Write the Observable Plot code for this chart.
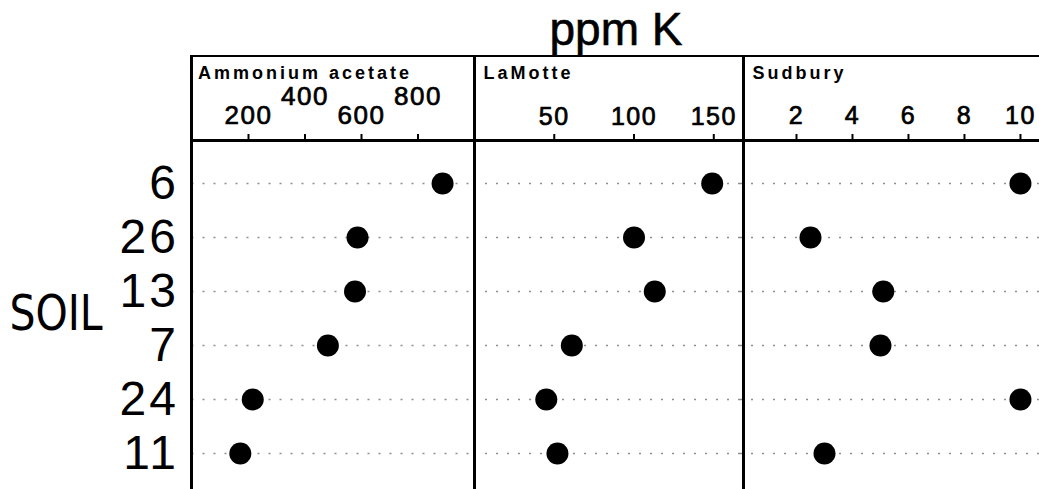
<!DOCTYPE html>
<html>
<head>
<meta charset="utf-8">
<script src="https://cdn.jsdelivr.net/npm/d3@7"></script>
<script src="https://cdn.jsdelivr.net/npm/@observablehq/plot@0.6"></script>
<style>
  html, body { margin: 0; padding: 0; background: #fff; overflow: hidden; }
  #wrap { position: relative; width: 1039px; height: 489px; overflow: hidden; background: #fff; }
  .panel { position: absolute; top: 0; }
  .line { position: absolute; background: #000; z-index: 5; }
  #title { position: absolute; left: 616px; top: 6px; transform: translateX(-50%);
           font-family: "Liberation Sans", Arial, sans-serif; font-size: 46px; line-height: 46px;
           white-space: nowrap; color: #000; z-index: 6; -webkit-text-stroke: 0.6px #000; }
  #ylab { position: absolute; left: 56px; top: 288px; transform: translateX(-50%) scaleX(0.82);
          font-family: "DejaVu Sans", sans-serif; font-weight: normal;
          font-size: 50px; line-height: 50px; white-space: nowrap; color: #000; }
</style>
</head>
<body>
<div id="wrap">
  <div id="title">ppm K</div>
  <div id="ylab">SOIL</div>
</div>
<script>
// ---- data ----
const soils = ["6", "26", "13", "7", "24", "11"];
const ammoniumAcetate = [887, 586, 577, 481, 215, 171];
const laMotte = [149, 100, 113, 61, 45, 52];
const sudbury = [10, 2.5, 5.1, 5, 10, 3];

const ammoniumTicksLow = [200, 600];
const ammoniumTicksHigh = [400, 800];
const laMotteTicks = [50, 100, 150];
const sudburyTicks = [2, 4, 6, 8, 10];

const panelLabels = ["Ammonium acetate", "LaMotte", "Sudbury"];

// ---- layout ----
const wrap = document.getElementById("wrap");
const FONT = "'Liberation Sans', Arial, Helvetica, sans-serif";
const H = 495.5, MT = 140;

function rows(values) {
  return soils.map((s, i) => ({soil: s, value: values[i]}));
}

function panel({values, domain, axes, label, left, width, marginLeft, yAxis, labelDx, tickFont}) {
  const marks = [
    Plot.ruleY(soils, {y: d => d, stroke: "#333", strokeWidth: 1.3, strokeDasharray: "2 9", strokeOpacity: 0.55}),
    ...axes.map(a => Plot.axisX({anchor: "top", ticks: a.ticks, tickSize: 7, tickPadding: a.pad,
                                 fontSize: tickFont, strokeWidth: 2, label: null})),
    Plot.dot(rows(values), {x: "value", y: "soil", r: 11, fill: "#000", stroke: "none"}),
    Plot.text([label], {text: d => d, frameAnchor: "top-left", dx: labelDx, dy: -67,
                        lineAnchor: "middle", textAnchor: "start", fontSize: 18, fontWeight: "bold"})
  ];
  if (yAxis) marks.push(Plot.axisY({anchor: "left", tickSize: 0, tickPadding: 13, fontSize: 48, label: null}));
  const svg = Plot.plot({
    width, height: H, marginTop: MT, marginBottom: 0, marginLeft, marginRight: 0,
    style: {background: "transparent", fontFamily: FONT, color: "#000", overflow: "visible"},
    x: {domain, axis: null},
    y: {type: "point", domain: soils, padding: 0.75, axis: null},
    marks
  });
  d3.select(svg).selectAll("g[aria-label='text'] text").attr("letter-spacing", "3px");
  d3.select(svg).selectAll("g[aria-label='x-axis tick label']").attr("font-size", tickFont);
  d3.select(svg).selectAll("g[aria-label='x-axis tick label'] text")
    .attr("font-size", tickFont).style("font-size", tickFont + "px")
    .attr("letter-spacing", "1.5px").attr("stroke", "#000").attr("stroke-width", 0.7);
  d3.select(svg).selectAll("g[aria-label='y-axis tick label'] text").attr("letter-spacing", "3px");
  const div = document.createElement("div");
  div.className = "panel";
  div.style.left = left + "px";
  div.appendChild(svg);
  wrap.appendChild(div);
}

panel({values: ammoniumAcetate, domain: [0, 1000], label: panelLabels[0], left: 0, width: 474,
       marginLeft: 191.5, yAxis: true, labelDx: 6, tickFont: 26,
       axes: [{ticks: ammoniumTicksLow, pad: 9.5}, {ticks: ammoniumTicksHigh, pad: 29}]});
panel({values: laMotte, domain: [0, 168], label: panelLabels[1], left: 474, width: 268,
       marginLeft: 0, yAxis: false, labelDx: 9, tickFont: 25,
       axes: [{ticks: laMotteTicks, pad: 9}]});
panel({values: sudbury, domain: [0, 10.68], label: panelLabels[2], left: 740, width: 299,
       marginLeft: 0, yAxis: false, labelDx: 12, tickFont: 25,
       axes: [{ticks: sudburyTicks, pad: 9.5}]});

// frame lines of the panel boxes
function line(x, y, w, h) {
  const d = document.createElement("div");
  d.className = "line";
  Object.assign(d.style, {left: x + "px", top: y + "px", width: w + "px", height: h + "px"});
  wrap.appendChild(d);
}
line(190, 55, 849, 2);      // top of header
line(190, 139, 849, 2.5);   // axis line
line(190, 55, 3, 434);      // left of panel 1
line(472.5, 55, 3, 434);    // between panel 1 and 2
line(741.5, 55, 3, 434);    // between panel 2 and 3
</script>
</body>
</html>
